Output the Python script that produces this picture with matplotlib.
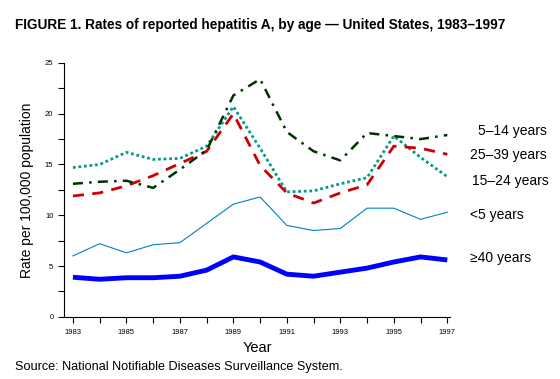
import numpy as np
import matplotlib.pyplot as plt
from matplotlib.ticker import MultipleLocator

plt.rcParams['font.family'] = ['Liberation Sans', 'DejaVu Sans']

years = np.arange(1983, 1998)
age_5_14 = [13.1, 13.3, 13.4, 12.7, 14.5, 16.4, 21.8, 23.4, 18.2, 16.3, 15.4, 18.1, 17.8, 17.5, 17.9]
age_25_39 = [11.9, 12.2, 12.9, 13.9, 15.1, 16.3, 20.0, 14.9, 12.2, 11.2, 12.2, 13.0, 16.8, 16.6, 16.0]
age_15_24 = [14.7, 15.0, 16.2, 15.5, 15.6, 16.8, 20.7, 16.6, 12.3, 12.4, 13.1, 13.7, 17.8, 15.7, 13.8]
age_lt5 = [6.0, 7.2, 6.3, 7.1, 7.3, 9.2, 11.1, 11.8, 9.0, 8.5, 8.7, 10.7, 10.7, 9.6, 10.3]
age_ge40 = [3.9, 3.7, 3.85, 3.85, 4.0, 4.6, 5.9, 5.4, 4.2, 4.0, 4.4, 4.8, 5.4, 5.9, 5.6]

labels = ['5\u201314 years', '25\u201339 years', '15\u201324 years', '<5 years', '\u226540 years']

fig = plt.figure(figsize=(5.6, 3.79), dpi=100)
ax = fig.add_axes([0.114, 0.164, 0.690, 0.670])

ax.plot(years, age_lt5, color='#0080c8', lw=0.8)
ax.plot(years, age_ge40, color='#0000ff', lw=3.5, solid_capstyle='butt')
ax.plot(years, age_15_24, color='#009a88', lw=2, linestyle=(0, (1, 1)))
ax.plot(years, age_25_39, color='#cc0000', lw=2, linestyle=(0, (4, 3)))
ax.plot(years, age_5_14, color='#003300', lw=1.8, linestyle=(0, (4, 2.5, 1, 2.5)))

ax.set_xlim(1982.66, 1997.11)
ax.set_ylim(0, 25)
ax.xaxis.set_major_locator(MultipleLocator(2))
ax.xaxis.set_minor_locator(MultipleLocator(1))
ax.yaxis.set_major_locator(MultipleLocator(5))
ax.yaxis.set_minor_locator(MultipleLocator(2.5))
ax.set_xticks(np.arange(1983, 1998, 2))
ax.tick_params(which='both', direction='out', length=4, width=0.8, labelsize=5.5, colors='black')
ax.tick_params(axis='x', pad=5)
for s in ['top', 'right']:
    ax.spines[s].set_visible(False)

ax.set_xlabel('Year', fontsize=10.5, labelpad=3)
ax.set_ylabel('Rate per 100,000 population', fontsize=10, labelpad=8)

label_y = [131, 155, 181, 215, 258]
label_x = [478, 470, 472, 470, 470]
for t, lx, ly in zip(labels, label_x, label_y):
    fig.text(lx / 560, 1 - ly / 379, t, fontsize=10, va='center', ha='left')

fig.text(15 / 560, 1 - 25 / 379, 'FIGURE 1. Rates of reported hepatitis A, by age \u2014 United States, 1983\u20131997',
         fontsize=9.8, fontweight='bold', va='center', ha='left')
fig.text(15 / 560, 1 - 367 / 379, 'Source: National Notifiable Diseases Surveillance System.',
         fontsize=9.1, va='center', ha='left')

fig.savefig('out.png', dpi=100)
